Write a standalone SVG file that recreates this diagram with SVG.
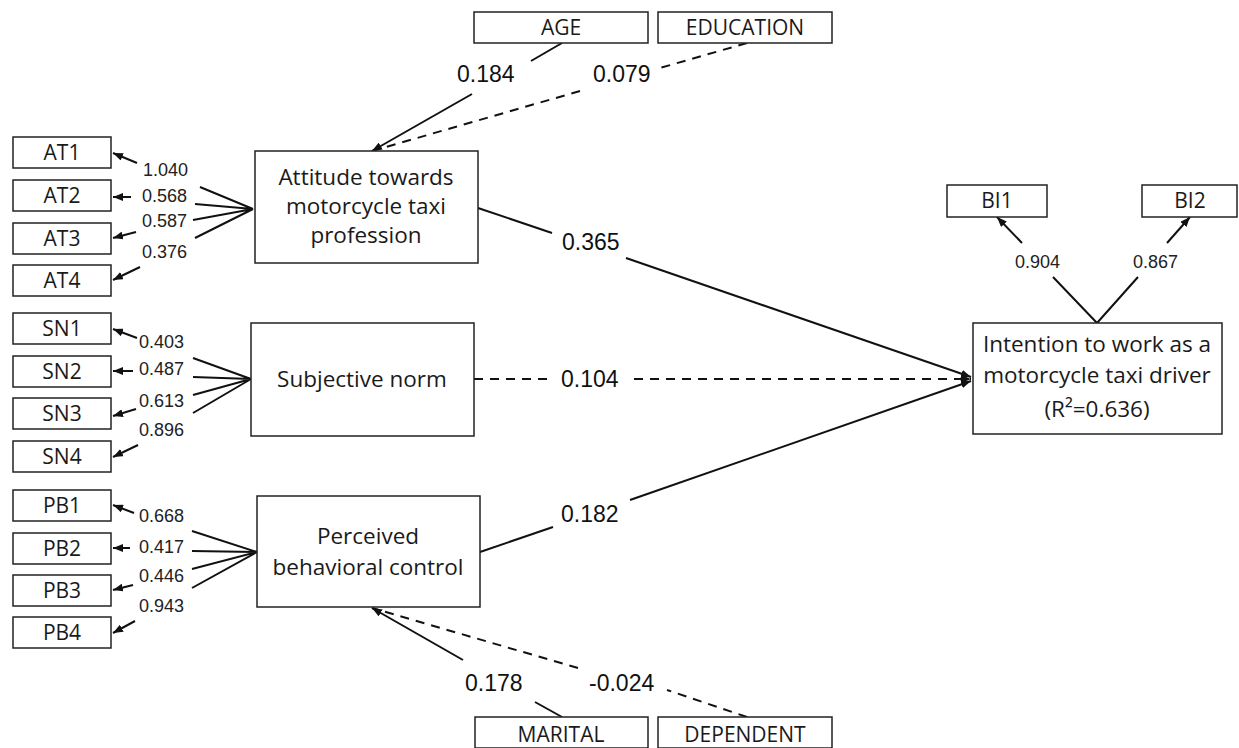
<svg xmlns="http://www.w3.org/2000/svg" width="1239" height="748" viewBox="0 0 1239 748">
<style>
.box{fill:#fff;stroke:#222;stroke-width:1.5}
.nt{font-family:"Open Sans","Noto Sans","DejaVu Sans",sans-serif;font-size:21px;fill:#1a1a1a;text-anchor:middle}
.bt{font-family:"Open Sans","Noto Sans","DejaVu Sans",sans-serif;font-size:22.5px;fill:#1a1a1a;text-anchor:middle}
.ln{stroke:#111;stroke-width:2;fill:none}
.dl{stroke:#111;stroke-width:2;fill:none;stroke-dasharray:9,7}
.sl{font-family:"Liberation Sans",Arial,sans-serif;font-size:18px;fill:#222}
.ll{font-family:"Liberation Sans",Arial,sans-serif;font-size:23px;fill:#111}
</style>
<defs>
<marker id="ah" markerUnits="userSpaceOnUse" markerWidth="10" markerHeight="8" refX="10" refY="4" orient="auto">
<path d="M0,0 L10,4 L0,8 z" fill="#111"/>
</marker>
</defs>
<rect width="1239" height="748" fill="#fff"/>

<g id="connectors">
<path class="ln" d="M200,187 L253,209 M195,204 L253,209 M193,220 L253,209 M195,238 L253,209"/>
<line class="ln" x1="137" y1="163" x2="113" y2="153" marker-end="url(#ah)"/>
<line class="ln" x1="131" y1="197" x2="113" y2="197" marker-end="url(#ah)"/>
<line class="ln" x1="136" y1="232" x2="113" y2="238" marker-end="url(#ah)"/>
<line class="ln" x1="140" y1="267" x2="113" y2="280" marker-end="url(#ah)"/>
<path class="ln" d="M193,358 L251,379 M193,377 L251,379 M193,395 L251,379 M193,413 L251,379"/>
<line class="ln" x1="137" y1="338" x2="113" y2="329" marker-end="url(#ah)"/>
<line class="ln" x1="133" y1="371" x2="113" y2="371" marker-end="url(#ah)"/>
<line class="ln" x1="136" y1="409" x2="113" y2="416" marker-end="url(#ah)"/>
<line class="ln" x1="138" y1="445" x2="113" y2="457" marker-end="url(#ah)"/>
<path class="ln" d="M192,531 L257,552 M192,551 L257,552 M192,569 L257,552 M192,588 L257,552"/>
<line class="ln" x1="134" y1="513" x2="113" y2="505" marker-end="url(#ah)"/>
<line class="ln" x1="130" y1="548" x2="113" y2="548" marker-end="url(#ah)"/>
<line class="ln" x1="133" y1="585" x2="113" y2="590" marker-end="url(#ah)"/>
<line class="ln" x1="135" y1="621" x2="113" y2="633" marker-end="url(#ah)"/>
<path class="ln" d="M1097,323 L1053,277 M1097,323 L1138,277"/>
<line class="ln" x1="1022" y1="243" x2="997" y2="217" marker-end="url(#ah)"/>
<line class="ln" x1="1167" y1="243" x2="1190" y2="217" marker-end="url(#ah)"/>
<line class="ln" x1="562" y1="43" x2="531" y2="61"/>
<line class="ln" x1="472" y1="94" x2="372" y2="151" marker-end="url(#ah)"/>
<line class="dl" x1="747" y1="43" x2="660" y2="68"/>
<line class="dl" x1="580" y1="91" x2="372" y2="151"/>
<line class="ln" x1="562" y1="717" x2="535" y2="702"/>
<line class="ln" x1="463" y1="660" x2="372" y2="608" marker-end="url(#ah)"/>
<line class="dl" x1="747" y1="717" x2="667" y2="690"/>
<line class="dl" x1="578" y1="668" x2="372" y2="608"/>
<line class="ln" x1="478" y1="208" x2="552" y2="233"/>
<line class="ln" x1="626" y1="258" x2="971" y2="377" marker-end="url(#ah)"/>
<line class="dl" x1="474" y1="379" x2="548" y2="379"/>
<line class="dl" x1="634" y1="379" x2="971" y2="379" marker-end="url(#ah)"/>
<line class="ln" x1="480" y1="552" x2="553" y2="527"/>
<line class="ln" x1="630" y1="500" x2="971" y2="381" marker-end="url(#ah)"/>

<text class="sl" x="143" y="176">1.040</text>
<text class="sl" x="142" y="202">0.568</text>
<text class="sl" x="142" y="227">0.587</text>
<text class="sl" x="142" y="258">0.376</text>
<text class="sl" x="139" y="348">0.403</text>
<text class="sl" x="139" y="375">0.487</text>
<text class="sl" x="139" y="407">0.613</text>
<text class="sl" x="139" y="436">0.896</text>
<text class="sl" x="139" y="522">0.668</text>
<text class="sl" x="139" y="553">0.417</text>
<text class="sl" x="139" y="582">0.446</text>
<text class="sl" x="139" y="612">0.943</text>
<text class="sl" x="1015" y="268">0.904</text>
<text class="sl" x="1133" y="268">0.867</text>
<text class="ll" x="457" y="82">0.184</text>
<text class="ll" x="593" y="82">0.079</text>
<text class="ll" x="465" y="691">0.178</text>
<text class="ll" x="589" y="691">-0.024</text>
<text class="ll" x="562" y="250">0.365</text>
<text class="ll" x="561" y="387">0.104</text>
<text class="ll" x="561" y="522">0.182</text>
</g>

<g id="AT1"><rect class="box" x="13" y="137" width="98" height="31"/><text class="nt" x="62" y="160">AT1</text></g>
<g id="AT2"><rect class="box" x="13" y="180" width="98" height="31"/><text class="nt" x="62" y="203">AT2</text></g>
<g id="AT3"><rect class="box" x="13" y="223" width="98" height="31"/><text class="nt" x="62" y="246">AT3</text></g>
<g id="AT4"><rect class="box" x="13" y="265" width="98" height="31"/><text class="nt" x="62" y="288">AT4</text></g>
<g id="SN1"><rect class="box" x="13" y="313" width="98" height="31"/><text class="nt" x="62" y="336">SN1</text></g>
<g id="SN2"><rect class="box" x="13" y="356" width="98" height="31"/><text class="nt" x="62" y="379">SN2</text></g>
<g id="SN3"><rect class="box" x="13" y="398" width="98" height="31"/><text class="nt" x="62" y="421">SN3</text></g>
<g id="SN4"><rect class="box" x="13" y="441" width="98" height="31"/><text class="nt" x="62" y="464">SN4</text></g>
<g id="PB1"><rect class="box" x="13" y="490" width="98" height="31"/><text class="nt" x="62" y="513">PB1</text></g>
<g id="PB2"><rect class="box" x="13" y="533" width="98" height="31"/><text class="nt" x="62" y="556">PB2</text></g>
<g id="PB3"><rect class="box" x="13" y="575" width="98" height="31"/><text class="nt" x="62" y="598">PB3</text></g>
<g id="PB4"><rect class="box" x="13" y="617" width="98" height="31"/><text class="nt" x="62" y="640">PB4</text></g>

<g id="AGE"><rect class="box" x="474" y="12" width="174" height="31"/><text class="nt" x="561" y="35">AGE</text></g>
<g id="EDUCATION"><rect class="box" x="658" y="12" width="174" height="31"/><text class="nt" x="745" y="35">EDUCATION</text></g>
<g id="MARITAL"><rect class="box" x="475" y="717" width="173" height="31"/><text class="nt" x="561" y="742">MARITAL</text></g>
<g id="DEPENDENT"><rect class="box" x="658" y="717" width="174" height="31"/><text class="nt" x="745" y="742">DEPENDENT</text></g>
<g id="BI1"><rect class="box" x="947" y="185" width="100" height="32"/><text class="nt" x="997" y="208">BI1</text></g>
<g id="BI2"><rect class="box" x="1142" y="185" width="95" height="32"/><text class="nt" x="1190" y="208">BI2</text></g>

<g id="attitude"><rect class="box" x="255" y="151" width="223" height="112"/>
<text class="bt" x="366" y="185">Attitude towards</text>
<text class="bt" x="366" y="214">motorcycle taxi</text>
<text class="bt" x="366" y="243">profession</text></g>
<g id="subjective_norm"><rect class="box" x="251" y="323" width="223" height="113"/>
<text class="bt" x="362" y="387">Subjective norm</text></g>
<g id="pbc"><rect class="box" x="257" y="496" width="223" height="111"/>
<text class="bt" x="368" y="544">Perceived</text>
<text class="bt" x="368" y="575">behavioral control</text></g>
<g id="intention"><rect class="box" x="973" y="323" width="249" height="111"/>
<text class="bt" x="1097" y="352">Intention to work as a</text>
<text class="bt" x="1097" y="383">motorcycle taxi driver</text>
<text class="bt" x="1097" y="417">(R²=0.636)</text></g>
</svg>
